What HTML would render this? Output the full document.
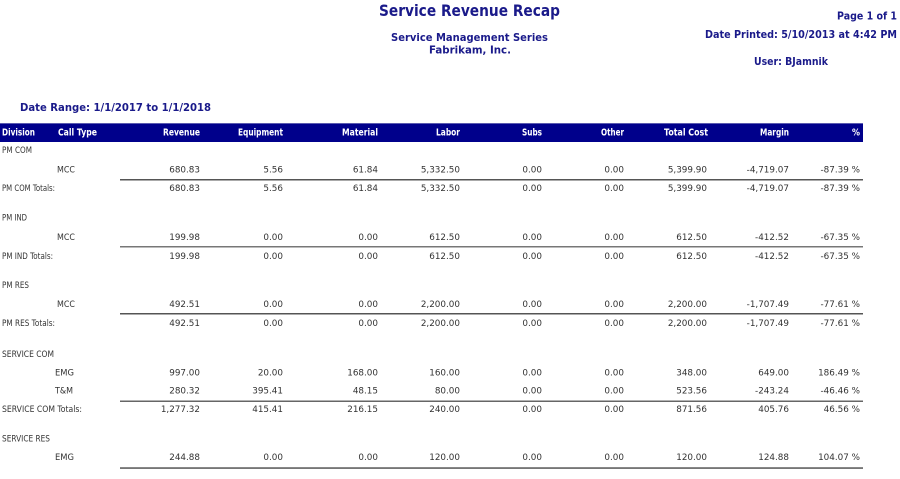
<!DOCTYPE html>
<html>
<head>
<meta charset="utf-8">
<style>
html,body{margin:0;padding:0;background:#fff;}
svg{display:block;}
.t{font-family:"DejaVu Sans","Liberation Sans",sans-serif;font-weight:bold;fill:#1a1a8a;}
.h{font-family:"DejaVu Sans","Liberation Sans",sans-serif;font-weight:bold;fill:#ffffff;font-size:9.5px;}
.b{font-family:"DejaVu Sans","Liberation Sans",sans-serif;fill:#333333;font-size:8.5px;}
.n{font-family:"DejaVu Sans","Liberation Sans",sans-serif;fill:#333333;font-size:8.8px;text-anchor:end;}
</style>
</head>
<body>
<svg width="900" height="479" viewBox="0 0 900 479" xmlns="http://www.w3.org/2000/svg">
<rect width="900" height="479" fill="#fff"/>
<!-- Titles -->
<text class="t" x="379" y="16" font-size="16" textLength="181" lengthAdjust="spacingAndGlyphs">Service Revenue Recap</text>
<text class="t" x="391" y="41" font-size="11" textLength="157" lengthAdjust="spacingAndGlyphs">Service Management Series</text>
<text class="t" x="429" y="53.5" font-size="11" textLength="82" lengthAdjust="spacingAndGlyphs">Fabrikam, Inc.</text>
<text class="t" x="837" y="19.5" font-size="10.5" textLength="60" lengthAdjust="spacingAndGlyphs">Page 1 of 1</text>
<text class="t" x="705" y="38" font-size="10.5" textLength="192" lengthAdjust="spacingAndGlyphs">Date Printed: 5/10/2013 at 4:42 PM</text>
<text class="t" x="754" y="65" font-size="10.5" textLength="74" lengthAdjust="spacingAndGlyphs">User: BJamnik</text>
<text class="t" x="20" y="111" font-size="11" textLength="191" lengthAdjust="spacingAndGlyphs">Date Range: 1/1/2017 to 1/1/2018</text>

<!-- Header bar -->
<rect x="0" y="123" width="863" height="19" fill="#00008b"/>
<rect x="0" y="123" width="863" height="1" fill="#5a5ab0"/>
<text class="h" x="2" y="135.5" textLength="33" lengthAdjust="spacingAndGlyphs">Division</text>
<text class="h" x="58" y="135.5" textLength="39" lengthAdjust="spacingAndGlyphs">Call Type</text>
<text class="h" x="163" y="135.5" textLength="37" lengthAdjust="spacingAndGlyphs">Revenue</text>
<text class="h" x="238" y="135.5" textLength="45" lengthAdjust="spacingAndGlyphs">Equipment</text>
<text class="h" x="342" y="135.5" textLength="36" lengthAdjust="spacingAndGlyphs">Material</text>
<text class="h" x="436" y="135.5" textLength="24" lengthAdjust="spacingAndGlyphs">Labor</text>
<text class="h" x="522" y="135.5" textLength="20" lengthAdjust="spacingAndGlyphs">Subs</text>
<text class="h" x="601" y="135.5" textLength="23" lengthAdjust="spacingAndGlyphs">Other</text>
<text class="h" x="664" y="135.5" textLength="44" lengthAdjust="spacingAndGlyphs">Total Cost</text>
<text class="h" x="760" y="135.5" textLength="29" lengthAdjust="spacingAndGlyphs">Margin</text>
<text class="h" x="852" y="135.5" textLength="8" lengthAdjust="spacingAndGlyphs">%</text>

<!-- PM COM -->
<text class="b" x="2" y="153" textLength="30" lengthAdjust="spacingAndGlyphs">PM COM</text>
<text class="b" x="57" y="172.5" textLength="18" lengthAdjust="spacingAndGlyphs">MCC</text>
<g>
<text class="n" x="200" y="172.5">680.83</text><text class="n" x="283" y="172.5">5.56</text><text class="n" x="378" y="172.5">61.84</text><text class="n" x="460" y="172.5">5,332.50</text><text class="n" x="542" y="172.5">0.00</text><text class="n" x="624" y="172.5">0.00</text><text class="n" x="707" y="172.5">5,399.90</text><text class="n" x="789" y="172.5">-4,719.07</text><text class="n" x="860" y="172.5">-87.39 %</text>
</g>
<rect x="120" y="179" width="743" height="1.5" fill="#555"/>
<text class="b" x="2" y="191" textLength="53" lengthAdjust="spacingAndGlyphs">PM COM Totals:</text>
<g>
<text class="n" x="200" y="191">680.83</text><text class="n" x="283" y="191">5.56</text><text class="n" x="378" y="191">61.84</text><text class="n" x="460" y="191">5,332.50</text><text class="n" x="542" y="191">0.00</text><text class="n" x="624" y="191">0.00</text><text class="n" x="707" y="191">5,399.90</text><text class="n" x="789" y="191">-4,719.07</text><text class="n" x="860" y="191">-87.39 %</text>
</g>

<!-- PM IND -->
<text class="b" x="2" y="220.5" textLength="25" lengthAdjust="spacingAndGlyphs">PM IND</text>
<text class="b" x="57" y="240" textLength="18" lengthAdjust="spacingAndGlyphs">MCC</text>
<g>
<text class="n" x="200" y="240">199.98</text><text class="n" x="283" y="240">0.00</text><text class="n" x="378" y="240">0.00</text><text class="n" x="460" y="240">612.50</text><text class="n" x="542" y="240">0.00</text><text class="n" x="624" y="240">0.00</text><text class="n" x="707" y="240">612.50</text><text class="n" x="789" y="240">-412.52</text><text class="n" x="860" y="240">-67.35 %</text>
</g>
<rect x="120" y="246" width="743" height="1.5" fill="#777"/>
<text class="b" x="2" y="259" textLength="51" lengthAdjust="spacingAndGlyphs">PM IND Totals:</text>
<g>
<text class="n" x="200" y="259">199.98</text><text class="n" x="283" y="259">0.00</text><text class="n" x="378" y="259">0.00</text><text class="n" x="460" y="259">612.50</text><text class="n" x="542" y="259">0.00</text><text class="n" x="624" y="259">0.00</text><text class="n" x="707" y="259">612.50</text><text class="n" x="789" y="259">-412.52</text><text class="n" x="860" y="259">-67.35 %</text>
</g>

<!-- PM RES -->
<text class="b" x="2" y="288" textLength="27" lengthAdjust="spacingAndGlyphs">PM RES</text>
<text class="b" x="57" y="307" textLength="18" lengthAdjust="spacingAndGlyphs">MCC</text>
<g>
<text class="n" x="200" y="307">492.51</text><text class="n" x="283" y="307">0.00</text><text class="n" x="378" y="307">0.00</text><text class="n" x="460" y="307">2,200.00</text><text class="n" x="542" y="307">0.00</text><text class="n" x="624" y="307">0.00</text><text class="n" x="707" y="307">2,200.00</text><text class="n" x="789" y="307">-1,707.49</text><text class="n" x="860" y="307">-77.61 %</text>
</g>
<rect x="120" y="313" width="743" height="1.5" fill="#555"/>
<text class="b" x="2" y="326" textLength="53" lengthAdjust="spacingAndGlyphs">PM RES Totals:</text>
<g>
<text class="n" x="200" y="326">492.51</text><text class="n" x="283" y="326">0.00</text><text class="n" x="378" y="326">0.00</text><text class="n" x="460" y="326">2,200.00</text><text class="n" x="542" y="326">0.00</text><text class="n" x="624" y="326">0.00</text><text class="n" x="707" y="326">2,200.00</text><text class="n" x="789" y="326">-1,707.49</text><text class="n" x="860" y="326">-77.61 %</text>
</g>

<!-- SERVICE COM -->
<text class="b" x="2" y="357" textLength="52" lengthAdjust="spacingAndGlyphs">SERVICE COM</text>
<text class="b" x="55" y="375.3" textLength="19" lengthAdjust="spacingAndGlyphs">EMG</text>
<g>
<text class="n" x="200" y="375.3">997.00</text><text class="n" x="283" y="375.3">20.00</text><text class="n" x="378" y="375.3">168.00</text><text class="n" x="460" y="375.3">160.00</text><text class="n" x="542" y="375.3">0.00</text><text class="n" x="624" y="375.3">0.00</text><text class="n" x="707" y="375.3">348.00</text><text class="n" x="789" y="375.3">649.00</text><text class="n" x="860" y="375.3">186.49 %</text>
</g>
<text class="b" x="55" y="393.5" textLength="18" lengthAdjust="spacingAndGlyphs">T&amp;M</text>
<g>
<text class="n" x="200" y="393.5">280.32</text><text class="n" x="283" y="393.5">395.41</text><text class="n" x="378" y="393.5">48.15</text><text class="n" x="460" y="393.5">80.00</text><text class="n" x="542" y="393.5">0.00</text><text class="n" x="624" y="393.5">0.00</text><text class="n" x="707" y="393.5">523.56</text><text class="n" x="789" y="393.5">-243.24</text><text class="n" x="860" y="393.5">-46.46 %</text>
</g>
<rect x="120" y="400.5" width="743" height="1.5" fill="#666"/>
<text class="b" x="2" y="412" textLength="80" lengthAdjust="spacingAndGlyphs">SERVICE COM Totals:</text>
<g>
<text class="n" x="200" y="412">1,277.32</text><text class="n" x="283" y="412">415.41</text><text class="n" x="378" y="412">216.15</text><text class="n" x="460" y="412">240.00</text><text class="n" x="542" y="412">0.00</text><text class="n" x="624" y="412">0.00</text><text class="n" x="707" y="412">871.56</text><text class="n" x="789" y="412">405.76</text><text class="n" x="860" y="412">46.56 %</text>
</g>

<!-- SERVICE RES -->
<text class="b" x="2" y="441.7" textLength="48" lengthAdjust="spacingAndGlyphs">SERVICE RES</text>
<text class="b" x="55" y="460" textLength="19" lengthAdjust="spacingAndGlyphs">EMG</text>
<g>
<text class="n" x="200" y="460">244.88</text><text class="n" x="283" y="460">0.00</text><text class="n" x="378" y="460">0.00</text><text class="n" x="460" y="460">120.00</text><text class="n" x="542" y="460">0.00</text><text class="n" x="624" y="460">0.00</text><text class="n" x="707" y="460">120.00</text><text class="n" x="789" y="460">124.88</text><text class="n" x="860" y="460">104.07 %</text>
</g>
<rect x="120" y="467.3" width="743" height="1.5" fill="#555"/>
</svg>
</body>
</html>
